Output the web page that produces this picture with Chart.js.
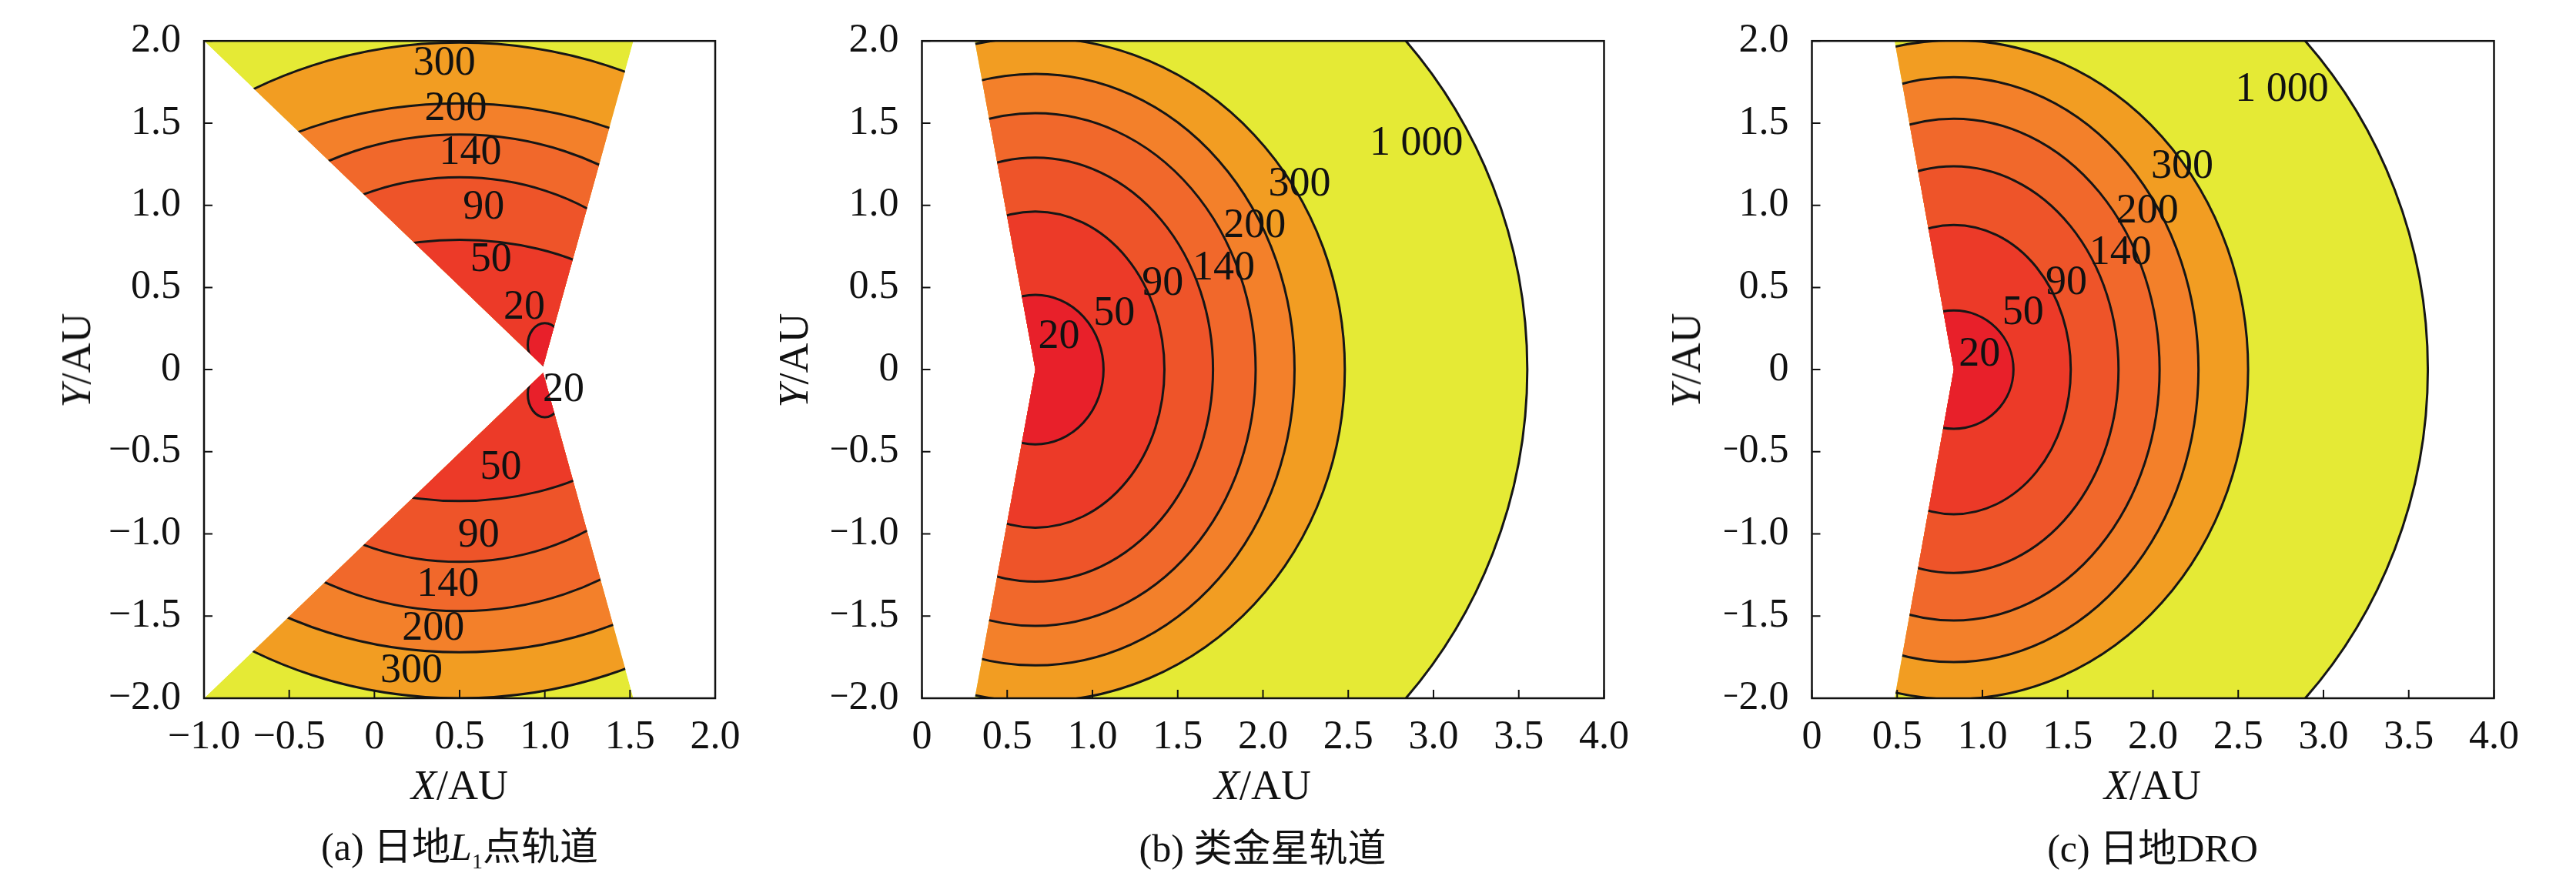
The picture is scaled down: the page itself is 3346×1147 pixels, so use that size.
<!DOCTYPE html>
<html>
<head>
<meta charset="utf-8">
<script src="https://cdn.jsdelivr.net/npm/chart.js@4.4.0/dist/chart.umd.min.js"></script>
<style>
  body { margin: 0; background: #fff; width: 3346px; height: 1147px; overflow: hidden; position: relative;
         font-family: "Liberation Serif", "DejaVu Serif", "Noto Sans CJK SC", serif; color: #111; }
  .cv { position: absolute; top: 0; height: 1147px; }
  .t { position: absolute; font-size: 54px; white-space: nowrap; transform: translate(-50%, -50%); }
  .yt { transform: translate(-50%, -50%) rotate(-90deg); }
  .cap { font-size: 50px; }
  sub { font-size: 28px; }
</style>
</head>
<body>
<div class="cv" style="left:0;width:1000px"><canvas id="ca"></canvas></div>
<div class="cv" style="left:1080px;width:1100px"><canvas id="cb"></canvas></div>
<div class="cv" style="left:2240px;width:1106px"><canvas id="cc"></canvas></div>

<div class="t yt" style="left:99px;top:468px"><i>Y</i>/AU</div>
<div class="t yt" style="left:1031px;top:468px"><i>Y</i>/AU</div>
<div class="t yt" style="left:2190px;top:468px"><i>Y</i>/AU</div>
<div class="t" style="left:597px;top:1020px"><i>X</i>/AU</div>
<div class="t" style="left:1640px;top:1020px"><i>X</i>/AU</div>
<div class="t" style="left:2796px;top:1020px"><i>X</i>/AU</div>
<div class="t cap" style="left:597px;top:1097px">(a) 日地<i>L</i><sub>1</sub>点轨道</div>
<div class="t cap" style="left:1640px;top:1097px">(b) 类金星轨道</div>
<div class="t cap" style="left:2796px;top:1097px">(c) 日地DRO</div>

<script>
// contour levels and fill colours (inside each level)
const levels = ['20', '50', '90', '140', '200', '300', '1 000'];
const levelColors = ['#e8202a', '#ec3a28', '#ee5429', '#f1682b', '#f3802a', '#f29d22', '#e5ea35'];

// (a) Sun-Earth L1: upper and lower wedges
const aCx = [1.0, 0.5, 0.5, 0.5, 0.5, 0.5];
const aCyUp = [0.15, 0, 0, 0, 0, 0];
const aCyLow = [-0.15, 0, 0, 0, 0, 0];
const aRx = [0.10, 1.25, 1.37, 1.67, 2.1, 2.35];
const aRyUp = [0.133, 0.79, 1.17, 1.43, 1.62, 1.99];
const aRyLow = [0.14, 0.80, 1.17, 1.47, 1.72, 2.0];
const aWedgeUp = [[0.99, 0.02], [-1, 2], [1.52, 2]];
const aWedgeLow = [[0.99, -0.02], [-1, -2], [1.52, -2]];
const aLabelX = [0.411, 0.477, 0.563, 0.641, 0.684, 0.88, 1.11, 0.742, 0.612, 0.431, 0.345, 0.218];
const aLabelY = [1.86, 1.583, 1.317, 0.983, 0.667, 0.377, -0.127, -0.6, -1.01, -1.31, -1.577, -1.833];
const aLabelText = ['300', '200', '140', '90', '50', '20', '20', '50', '90', '140', '200', '300'];

// (b) Venus-like orbit
const bCx = 0.665;
const bRx = [0.40, 0.757, 1.042, 1.292, 1.52, 1.815, 2.885];
const bRy = [0.455, 0.962, 1.29, 1.56, 1.80, 2.02, 3.04];
const bWedge = [[0.31, 2], [0.665, 0], [0.31, -2], [4, -2], [4, 2]];
const bLabelX = [2.90, 2.214, 1.951, 1.77, 1.412, 1.127, 0.804];
const bLabelY = [1.373, 1.127, 0.873, 0.617, 0.523, 0.34, 0.2];
const bLabelText = ['1 000', '300', '200', '140', '90', '50', '20'];

// (c) Sun-Earth DRO
const cCx = 0.832;
const cRx = [0.35, 0.686, 0.966, 1.207, 1.435, 1.726, 2.78];
const cRy = [0.36, 0.88, 1.237, 1.527, 1.78, 2.005, 2.98];
const cWedge = [[0.485, 2], [0.832, 0], [0.485, -2], [4, -2], [4, 2]];
const cLabelX = [2.756, 2.172, 1.967, 1.809, 1.492, 1.238, 0.983];
const cLabelY = [1.7, 1.233, 0.96, 0.707, 0.527, 0.343, 0.09];
const cLabelText = ['1 000', '300', '200', '140', '90', '50', '20'];

const FONT = '"Liberation Serif", "DejaVu Serif", serif';

function fmt(v) {
  if (Math.abs(v) < 1e-9) return '0';
  return (v < 0 ? '\u2212' : '') + Math.abs(v).toFixed(1);
}

function polyPath(ctx, xs, ys, pts) {
  ctx.beginPath();
  pts.forEach((p, i) => {
    const px = xs.getPixelForValue(p[0]), py = ys.getPixelForValue(p[1]);
    i ? ctx.lineTo(px, py) : ctx.moveTo(px, py);
  });
  ctx.closePath();
}

function ellPath(ctx, xs, ys, cx, cy, rx, ry) {
  const px = xs.getPixelForValue(cx), py = ys.getPixelForValue(cy);
  const prx = Math.abs(xs.getPixelForValue(cx + rx) - px);
  const pry = Math.abs(ys.getPixelForValue(cy + ry) - py);
  ctx.beginPath();
  ctx.ellipse(px, py, prx, pry, 0, 0, Math.PI * 2);
}

// draws one group of nested ellipses clipped to a wedge polygon
function drawGroup(ctx, xs, ys, g) {
  ctx.save();
  polyPath(ctx, xs, ys, g.wedge);
  ctx.clip();
  if (g.bg) { polyPath(ctx, xs, ys, g.wedge); ctx.fillStyle = g.bg; ctx.fill(); }
  for (let i = g.rx.length - 1; i >= 0; i--) {
    ellPath(ctx, xs, ys, g.cx[i], g.cy[i], g.rx[i], g.ry[i]);
    ctx.fillStyle = g.colors[i];
    ctx.fill();
  }
  ctx.strokeStyle = '#161616';
  ctx.lineWidth = 3;
  for (let i = 0; i < g.rx.length; i++) {
    ellPath(ctx, xs, ys, g.cx[i], g.cy[i], g.rx[i], g.ry[i]);
    ctx.stroke();
  }
  ctx.restore();
}

const contourPlugin = {
  id: 'contour',
  beforeDatasetsDraw(chart, args, opts) {
    const { ctx, chartArea: a, scales: { x, y } } = chart;
    ctx.save();
    ctx.beginPath();
    ctx.rect(a.left, a.top, a.right - a.left, a.bottom - a.top);
    ctx.clip();
    opts.groups.forEach(g => drawGroup(ctx, x, y, g));
    ctx.fillStyle = '#111';
    ctx.font = '54px ' + FONT;
    ctx.textAlign = 'center';
    ctx.textBaseline = 'middle';
    opts.labels.t.forEach((t, i) => {
      ctx.fillText(t, x.getPixelForValue(opts.labels.x[i]), y.getPixelForValue(opts.labels.y[i]));
    });
    ctx.restore();
  },
  afterDraw(chart) {
    const { ctx, chartArea: a, scales: { x, y } } = chart;
    ctx.save();
    ctx.strokeStyle = '#111';
    ctx.lineWidth = 2.5;
    ctx.strokeRect(a.left, a.top, a.right - a.left, a.bottom - a.top);
    ctx.lineWidth = 2;
    ctx.beginPath();
    x.ticks.forEach(t => {
      const px = x.getPixelForValue(t.value);
      ctx.moveTo(px, a.bottom); ctx.lineTo(px, a.bottom - 11);
    });
    y.ticks.forEach(t => {
      const py = y.getPixelForValue(t.value);
      ctx.moveTo(a.left, py); ctx.lineTo(a.left + 11, py);
    });
    ctx.stroke();
    ctx.restore();
  }
};

function makeChart(id, xMin, xMax, yWidth, padRight, groups, labels, pts) {
  new Chart(document.getElementById(id), {
    type: 'scatter',
    data: { datasets: [{ data: pts, pointRadius: 0, showLine: false }] },
    plugins: [contourPlugin],
    options: {
      responsive: true,
      maintainAspectRatio: false,
      animation: false,
      layout: { padding: { top: 29, right: padRight, left: 0, bottom: 0 } },
      plugins: { legend: { display: false }, tooltip: { enabled: false }, contour: { groups, labels } },
      scales: {
        x: {
          type: 'linear', min: xMin, max: xMax,
          grid: { display: false }, border: { display: false },
          ticks: { stepSize: 0.5, padding: 12, color: '#111', font: { family: FONT, size: 52 },
                   callback: fmt, maxRotation: 0, autoSkip: false },
          afterFit: s => { s.height = 240; }
        },
        y: {
          type: 'linear', min: -2, max: 2,
          grid: { display: false }, border: { display: false },
          ticks: { stepSize: 0.5, padding: 22, color: '#111', font: { family: FONT, size: 52 },
                   callback: fmt, autoSkip: false },
          afterFit: s => { s.width = yWidth; }
        }
      }
    }
  });
}

const labelPoints = (xs, ys) => xs.map((v, i) => ({ x: v, y: ys[i] }));

makeChart('ca', -1, 2, 265, 71, [
  { wedge: aWedgeUp, bg: levelColors[6], cx: aCx, cy: aCyUp, rx: aRx, ry: aRyUp, colors: levelColors },
  { wedge: aWedgeLow, bg: levelColors[6], cx: aCx, cy: aCyLow, rx: aRx, ry: aRyLow, colors: levelColors }
], { x: aLabelX, y: aLabelY, t: aLabelText }, labelPoints(aLabelX, aLabelY));

makeChart('cb', 0, 4, 117.5, 96.5, [
  { wedge: bWedge, cx: bRx.map(() => bCx), cy: bRx.map(() => 0), rx: bRx, ry: bRy, colors: levelColors }
], { x: bLabelX, y: bLabelY, t: bLabelText }, labelPoints(bLabelX, bLabelY));

makeChart('cc', 0, 4, 113.5, 106.5, [
  { wedge: cWedge, cx: cRx.map(() => cCx), cy: cRx.map(() => 0), rx: cRx, ry: cRy, colors: levelColors }
], { x: cLabelX, y: cLabelY, t: cLabelText }, labelPoints(cLabelX, cLabelY));
</script>
</body>
</html>
